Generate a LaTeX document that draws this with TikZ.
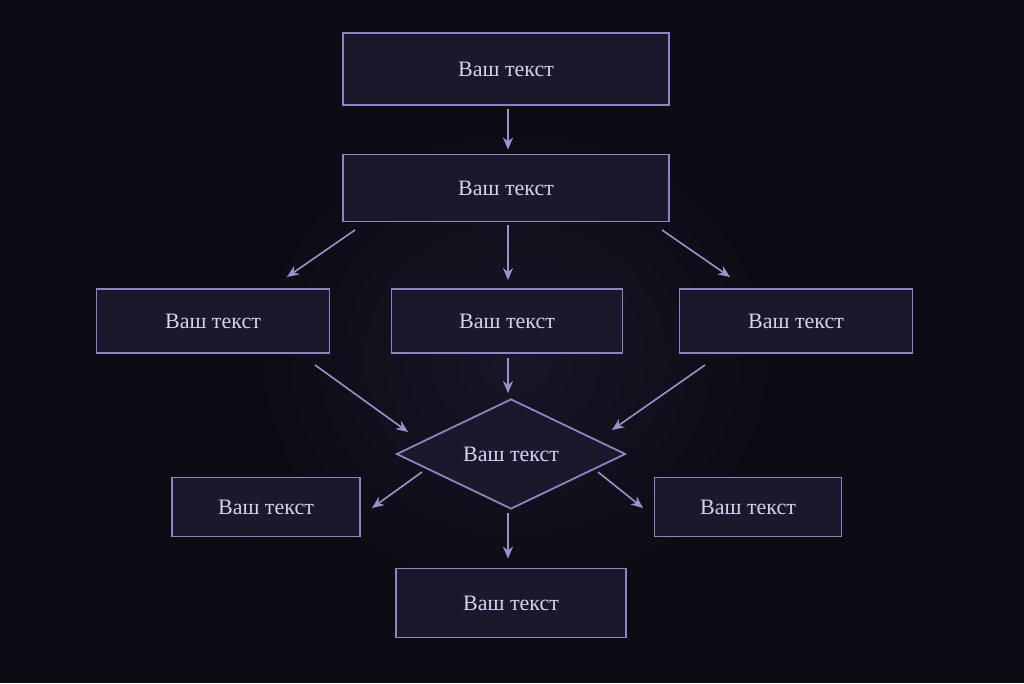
\documentclass[tikz,border=0pt]{standalone}
\usepackage{fontspec}
\setmainfont{Liberation Serif}
\usetikzlibrary{shapes.geometric,arrows.meta}
\definecolor{bg}{HTML}{0D0B14}
\definecolor{bx}{HTML}{1D172C}
\definecolor{bd}{HTML}{8E84C4}
\definecolor{tx}{HTML}{D6CFF0}
\definecolor{ar}{HTML}{9A92CC}
\begin{document}
\begin{tikzpicture}[x=1pt,y=-1pt,
  box/.style={draw=bd,line width=1.8pt,fill=bx,text=tx,font=\fontsize{22}{26}\selectfont,inner sep=0pt},
  arr/.style={draw=ar,line width=1.6pt,-{Stealth[length=12pt,width=10pt]}}]
\fill[bg] (0,0) rectangle (1024,683);
\shade[inner color=bx!80!bg,outer color=bg] (250,120) rectangle (780,600);
\useasboundingbox (0,0) rectangle (1024,683);
\node[box,minimum width=326pt,minimum height=72pt] (A) at (506,69) {Ваш текст};
\node[box,minimum width=326pt,minimum height=67pt] (B) at (506,188) {Ваш текст};
\node[box,minimum width=233pt,minimum height=64pt] (C1) at (213,321) {Ваш текст};
\node[box,minimum width=231pt,minimum height=64pt] (C2) at (507,321) {Ваш текст};
\node[box,minimum width=233pt,minimum height=64pt] (C3) at (796,321) {Ваш текст};
\node[box,diamond,aspect=2.08,minimum width=229pt,minimum height=110pt] (D) at (511,454) {Ваш текст};
\node[box,minimum width=188pt,minimum height=59pt] (E1) at (266,507) {Ваш текст};
\node[box,minimum width=187pt,minimum height=59pt] (E2) at (748,507) {Ваш текст};
\node[box,minimum width=230pt,minimum height=69pt] (F) at (511,603) {Ваш текст};
\coordinate (b1) at (355,230); \coordinate (c1) at (287,277);
\coordinate (b3) at (662,230); \coordinate (c3) at (730,277);
\coordinate (p1) at (315,365); \coordinate (d1) at (408,432);
\coordinate (p3) at (705,365); \coordinate (d3) at (612,430);
\coordinate (q1) at (422,472); \coordinate (e1) at (372,508);
\coordinate (q2) at (598,472); \coordinate (e2) at (643,508);
\draw[arr,shorten <=3pt,shorten >=4pt] (A.south -| 508,0) -- (B.north -| 508,0);
\draw[arr] (b1) -- (c1);
\draw[arr,shorten <=3pt,shorten >=8pt] (B.south -| 508,0) -- (C2.north -| 508,0);
\draw[arr] (b3) -- (c3);
\draw[arr] (p1) -- (d1);
\draw[arr,shorten <=4pt,shorten >=5pt] (C2.south -| 508,0) -- (D.north -| 508,0);
\draw[arr] (p3) -- (d3);
\draw[arr] (q1) -- (e1);
\draw[arr] (q2) -- (e2);
\draw[arr,shorten <=3pt,shorten >=9pt] (D.south -| 508,0) -- (F.north -| 508,0);
\end{tikzpicture}
\end{document}
